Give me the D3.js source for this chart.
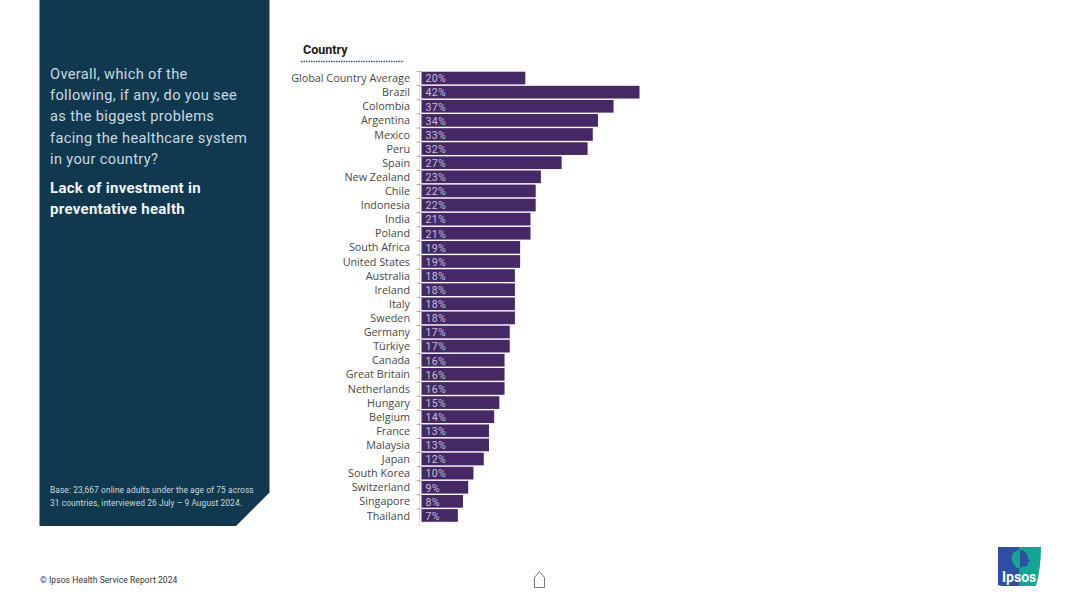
<!DOCTYPE html>
<html>
<head>
<meta charset="utf-8">
<script src="https://cdn.jsdelivr.net/npm/d3@7"></script>
<style>
  html, body { margin: 0; padding: 0; background: #fff; }
  svg { display: block; }
  .country-axis text { font-family: "Open Sans", sans-serif; font-size: 10.8px; fill: #484848; }
  .country-axis .domain { stroke: #e2e2e2; stroke-width: 1; }
  .country-axis .row-tick { stroke: #aaa; stroke-width: 1; }
  .panel-text { font-family: Roboto, sans-serif; fill: #ccd8de; }
</style>
</head>
<body>
<div id="chart-container"></div>
<script>
// Configuration
const width = 1080;
const height = 607;

// Data
const countries = ["Global Country Average", "Brazil", "Colombia", "Argentina", "Mexico", "Peru", "Spain",
    "New Zealand", "Chile", "Indonesia", "India", "Poland", "South Africa", "United States", "Australia",
    "Ireland", "Italy", "Sweden", "Germany", "Türkiye", "Canada", "Great Britain", "Netherlands", "Hungary",
    "Belgium", "France", "Malaysia", "Japan", "South Korea", "Switzerland", "Singapore", "Thailand"];
const shares = [20, 42, 37, 34, 33, 32, 27, 23, 22, 22, 21, 21, 19, 19, 18, 18, 18, 18, 17, 17, 16, 16, 16, 15,
    14, 13, 13, 12, 10, 9, 8, 7];
const questionLines = ["Overall, which of the", "following, if any, do you see", "as the biggest problems",
    "facing the healthcare system", "in your country?"];
const answerLines = ["Lack of investment in", "preventative health"];
const baseLines = ["Base: 23,667 online adults under the age of 75 across",
    "31 countries, interviewed 26 July – 9 August 2024."];

const svg = d3.select("#chart-container")
    .append("svg")
    .attr("width", width)
    .attr("height", height);

// --- Left panel ---
svg.append("path")
    .attr("d", "M39.5,0H269.5V492.5L236,526H39.5Z")
    .attr("fill", "#10384f");

svg.append("g").selectAll("text")
    .data(questionLines)
    .join("text")
    .attr("class", "panel-text")
    .attr("x", 50)
    .attr("y", (d, i) => 79 + i * 21.2)
    .attr("font-size", 14.6)
    .attr("letter-spacing", 0.35)
    .text(d => d);

svg.append("g").selectAll("text")
    .data(answerLines)
    .join("text")
    .attr("class", "panel-text")
    .attr("x", 50)
    .attr("y", (d, i) => 193 + i * 21.2)
    .attr("font-size", 15)
    .attr("font-weight", 700)
    .attr("letter-spacing", 0.3)
    .style("fill", "#f2f5f6")
    .text(d => d);

svg.append("g").selectAll("text")
    .data(baseLines)
    .join("text")
    .attr("class", "panel-text")
    .attr("x", 50)
    .attr("y", (d, i) => 493 + i * 13)
    .attr("font-size", 8.4)
    .attr("letter-spacing", 0.09)
    .text(d => d);

// --- Chart ---
const x = d3.scaleLinear().domain([0, 42]).range([421.5, 639.5]);
const y = d3.scaleBand().domain(countries).range([71, 522.5]).paddingInner(0.1).paddingOuter(0.05);

svg.append("text")
    .attr("x", 303)
    .attr("y", 54)
    .attr("font-family", "Roboto, sans-serif")
    .attr("font-size", 12.5)
    .attr("font-weight", 700)
    .attr("fill", "#1a1a1a")
    .text("Country");

svg.append("line")
    .attr("x1", 301)
    .attr("x2", 404)
    .attr("y1", 61.5)
    .attr("y2", 61.5)
    .attr("stroke", "#2f4f78")
    .attr("stroke-width", 1.6)
    .attr("stroke-dasharray", "1.4 1.1");

// Axis ticks sit between the rows, so draw the labels and the ticks separately
const axis = svg.append("g")
    .attr("class", "country-axis")
    .attr("transform", "translate(419.5,0.6)")
    .call(d3.axisLeft(y).tickSize(0).tickPadding(9.5));
axis.select(".domain").attr("d", "M0,71V526");

axis.selectAll(".row-tick")
    .data(countries)
    .join("line")
    .attr("class", "row-tick")
    .attr("x1", -3)
    .attr("x2", 2)
    .attr("y1", d => y(d) - y.step() * y.paddingInner() / 2)
    .attr("y2", d => y(d) - y.step() * y.paddingInner() / 2);

const rows = countries.map((c, i) => ({ country: c, share: shares[i] }));

svg.append("g").selectAll("rect")
    .data(rows)
    .join("rect")
    .attr("x", x(0))
    .attr("y", d => y(d.country))
    .attr("width", d => x(d.share) - x(0))
    .attr("height", y.bandwidth())
    .attr("fill", "#462866");

svg.append("g").selectAll("text")
    .data(rows)
    .join("text")
    .attr("x", x(0) + 4)
    .attr("y", d => y(d.country) + y.bandwidth() / 2 + 4.3)
    .attr("font-family", "Roboto, sans-serif")
    .attr("font-size", 10.6)
    .attr("letter-spacing", 0.3)
    .attr("fill", "#c9bfd6")
    .text(d => d.share + "%");

// --- Footer ---
svg.append("text")
    .attr("x", 40)
    .attr("y", 583)
    .attr("font-family", "Roboto, sans-serif")
    .attr("font-size", 8.5)
    .attr("letter-spacing", 0.08)
    .attr("fill", "#333")
    .text("© Ipsos Health Service Report 2024");

// Home icon
svg.append("path")
    .attr("d", "M534.5,587.5V577.5L539.5,571.5L544.5,577.5V587.5Z")
    .attr("fill", "none")
    .attr("stroke", "#777")
    .attr("stroke-width", 1);

// Ipsos logo
const logo = svg.append("g").attr("transform", "translate(998,546)");
logo.append("path")
    .attr("d", "M0,1H21V40H6Q2,40 0,39Z")
    .attr("fill", "#2d4fa3");
logo.append("path")
    .attr("d", "M21,1H43Q43,22 38,40H21Z")
    .attr("fill", "#12a594");
logo.append("path")
    .attr("d", "M22,4C15,4 13,10 14,15C15,18 17,19 18,22H22Z")
    .attr("fill", "#12a594");
logo.append("path")
    .attr("d", "M22,4C28,4 30,9 30,12L32,15L30,16V19C29,21 26,20 24,21L22,22Z")
    .attr("fill", "#2d4fa3");
logo.append("text")
    .attr("x", 4)
    .attr("y", 35.5)
    .attr("font-family", "Roboto, sans-serif")
    .attr("font-size", 14)
    .attr("font-weight", 700)
    .attr("fill", "#fff")
    .text("Ipsos");
</script>
</body>
</html>
